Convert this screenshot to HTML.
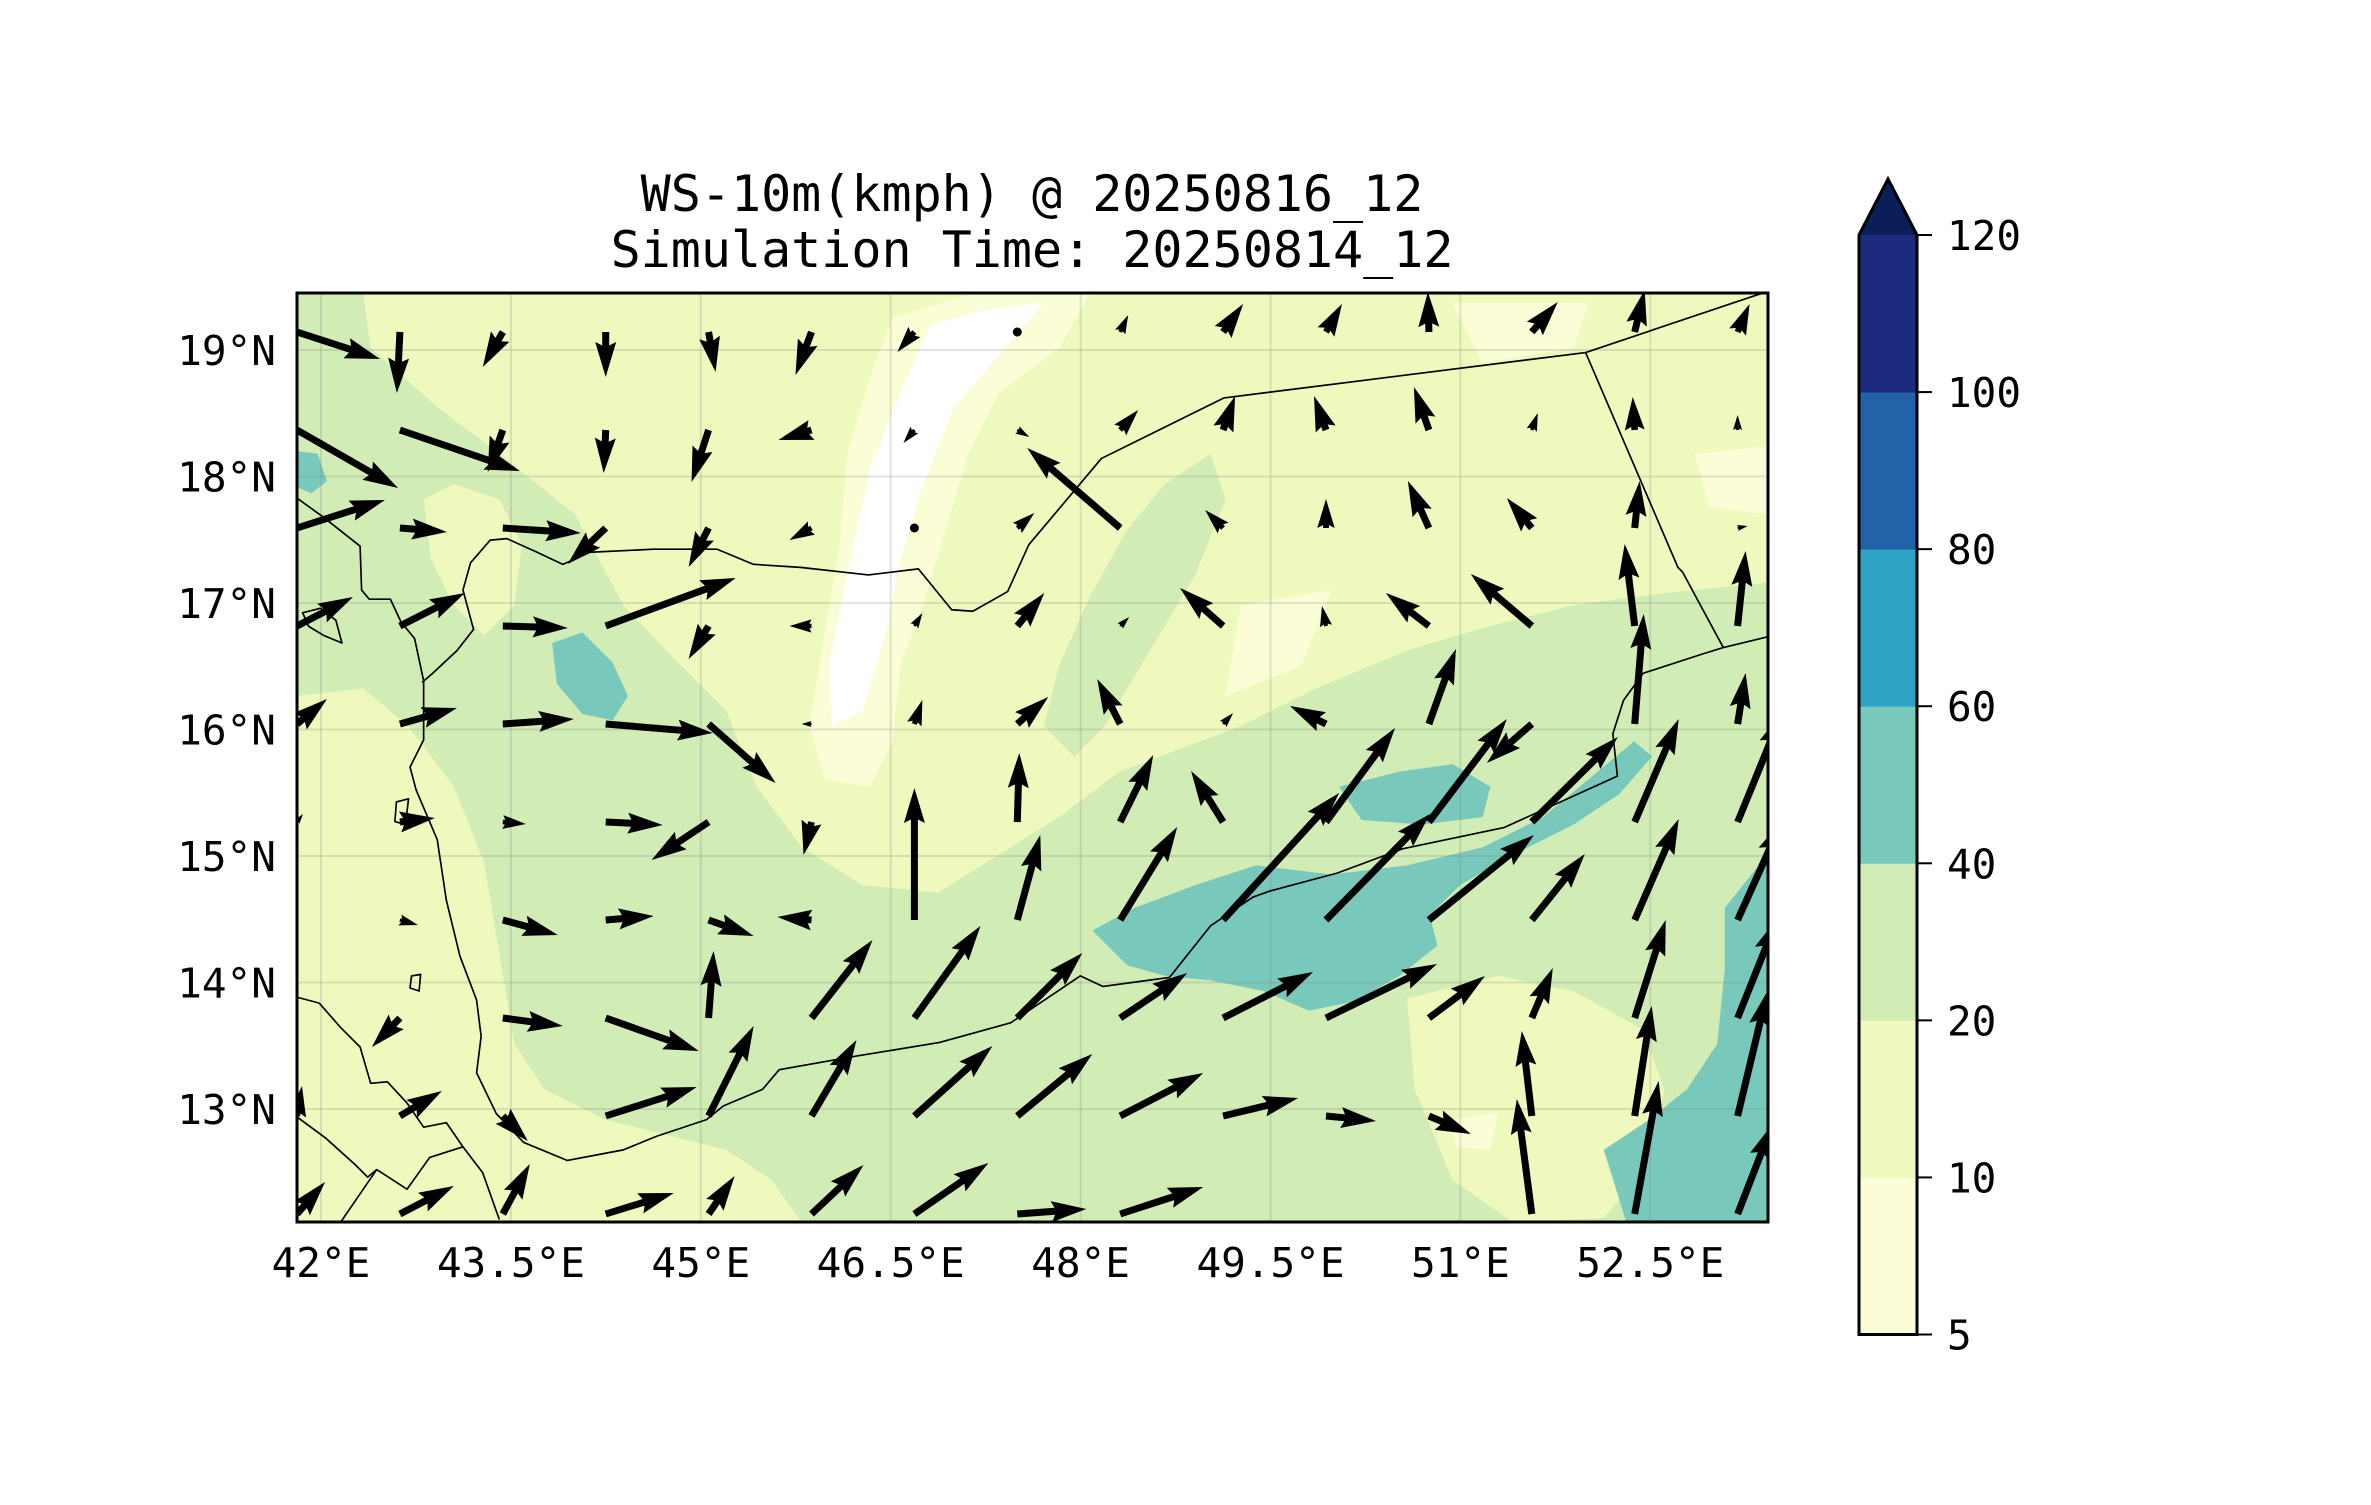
<!DOCTYPE html>
<html><head><meta charset="utf-8"><style>
html,body{margin:0;padding:0;background:#fff;}
svg text{font-family:"DejaVu Sans Mono","Liberation Mono",monospace;fill:#000;}
</style></head><body>
<svg id="fig" xmlns="http://www.w3.org/2000/svg" width="2371" height="1500" viewBox="0 0 2371 1500">
<rect width="2371" height="1500" fill="#fff"/>
<text x="1032" y="211" font-size="50" text-anchor="middle">WS-10m(kmph) @ 20250816_12</text>
<text x="1032" y="267" font-size="50" text-anchor="middle">Simulation Time: 20250814_12</text>
<defs><clipPath id="mapclip"><rect x="297" y="293" width="1471" height="929"/></clipPath></defs>
<g clip-path="url(#mapclip)">
<rect x="297" y="293" width="1471" height="929" fill="#eff9bd"/>
<g transform="scale(1.513)">
<path fill="#d1ecb4" d="M196,194 L240,194 L245,230 L290,270 L330,300 L380,340 L412,400 L450,440 L480,470 L500,520 L530,560 L570,585 L620,590 L660,565 L700,540 L740,510 L780,495 L820,480 L870,455 L930,430 L980,415 L1040,400 L1100,392 L1168,385 L1168,808 L196,808 Z"/>
<path fill="#d1ecb4" d="M690,480 L700,440 L720,395 L745,350 L770,320 L800,300 L810,330 L790,380 L760,430 L730,480 L710,500 Z"/>
<path fill="#eff9bd" d="M280,330 L300,320 L330,330 L345,360 L340,400 L320,420 L300,400 L285,370 Z"/>
<path fill="#eff9bd" d="M196,460 L240,455 L270,480 L300,520 L320,570 L330,630 L340,690 L360,720 L400,740 L440,750 L480,760 L510,780 L530,808 L196,808 Z"/>
<path fill="#eff9bd" d="M930,660 L990,645 L1040,655 L1085,680 L1100,720 L1090,770 L1060,805 L1000,808 L960,780 L935,720 Z"/>
<path fill="#fbfdd6" d="M590,210 L640,195 L720,195 L700,230 L660,260 L640,300 L625,350 L610,400 L595,440 L590,490 L575,520 L545,515 L535,480 L545,420 L555,360 L560,300 L575,250 Z"/>
<path fill="#ffffff" d="M615,215 L650,205 L690,200 L660,235 L630,270 L610,320 L595,370 L585,420 L570,470 L550,480 L548,440 L560,380 L575,310 L595,260 Z"/>
<path fill="#fbfdd6" d="M960,200 L1050,200 L1040,230 L980,240 Z M1120,300 L1168,295 L1168,340 L1130,335 Z M820,400 L880,390 L860,440 L810,460 Z M960,740 L990,735 L985,760 L962,758 Z"/>
<path fill="#78c9bb" d="M722,615 L750,600 L790,585 L830,572 L880,578 L930,572 L980,560 L1020,540 L1050,515 L1080,490 L1092,500 L1070,525 L1040,545 L1000,565 L965,585 L945,605 L950,625 L925,645 L895,662 L865,668 L835,655 L800,648 L770,645 L745,638 Z M885,520 L925,510 L960,505 L985,520 L980,540 L940,545 L900,542 Z M1060,760 L1090,740 L1115,720 L1135,690 L1140,640 L1140,600 L1168,565 L1168,808 L1075,808 Z M365,425 L385,418 L405,438 L415,460 L405,476 L385,472 L368,452 Z M196,298 L210,300 L216,318 L206,326 L196,322 Z"/>
</g>
<g id="gridlines" stroke="rgba(128,128,128,0.22)" stroke-width="2"></g>
<g transform="scale(1.513)" fill="none" stroke="#000" stroke-width="1.1" stroke-linejoin="round">
<polyline points="196,329 214,342 238,361 239,390 244,396 258,396 265,411 274,422 280,450 280,489 271,507 275,522 289,555 295,595 304,632 315,661 318,685 315,709 328,736 346,755 375,767 412,760 434,751 467,740 478,731 504,720 515,707 566,698 621,689 668,676 714,645 729,652 773,646 800,612 828,593 839,589 884,577 927,561 994,547 1038,527 1069,513 1066,485 1073,463 1086,445 1126,432 1139,428 1168,421"/>
<polyline points="279,451 286,445 302,430 313,416 306,390 311,372 324,357 335,356 355,365 372,373 390,365 432,363 474,363 498,373 529,375 574,380 607,376 629,403 643,404 666,391 680,360 728,303 809,263 1048,233 1161,195 1168,193"/>
<polyline points="1048,233 1109,375 1112,378 1139,428"/>
<polyline points="196,659 211,663 225,679 238,692 245,716 256,715 269,729 280,745 295,742 306,758 319,775 330,806"/>
<polyline points="196,738 215,752 235,770 243,778 249,773 269,786 284,765 306,758"/>
<polyline points="225,808 249,773"/>
<path d="M200,405 L212,402 L222,410 L226,425 L214,420 L204,414 Z M262,530 L270,528 L268,545 L261,543 Z M272,645 L278,644 L277,655 L271,653 Z"/>
</g>
<g id="quiver" fill="#000"></g>
</g>
<rect x="297" y="293" width="1471" height="929" fill="none" stroke="#000" stroke-width="3"/>
<g id="axes-labels" font-size="41"></g>
<g id="colorbar"></g>
</svg>
<script>
// Wind components (pixel units): u east, v north; null = no vector
const uRows = [
 [83,-3,-20,0,7,-16,-17,0.5,8,20,16,-1,26,10,12],
 [101,120,-15,-2,-17,-33,-11,12,18,12,-12,-15,6,-2,0],
 [88,47,78,-38,-20,-22,0.5,17,-93,-18,0,-21,-25,5,10],
 [56,65,65,130,-20,-22,8,27,9,-43,-4,-43,-61,-10,8],
 [30,57,71,107,67,-10,8,31,-23,10,-36,27,-45,9,8],
 [6,35,23,57,-57,-8,null,2,33,-32,69,78,86,44,45],
 [null,18,55,48,45,-34,0,23,57,116,104,105,53,44,45],
 [null,-28,60,93,5,61,66,65,67,90,111,56,21,31,40],
 [5,42,25,91,45,45,78,75,83,75,50,42,-10,17,30],
 [28,54,27,68,26,52,74,69,83,null,null,null,-15,24,35]
];
const vRows = [
 [-27,-61,-35,-45,-40,-43,-20,0,17,28,28,40,30,42,28],
 [-58,-41,-42,-43,-52,-10,-13,-7,20,34,34,43,17,33,15],
 [28,-4,-5,-36,-39,-12,0,15,80,18,29,47,30,47,2],
 [29,33,-2,48,-33,0,13,33,9,38,20,33,52,82,75],
 [25,16,5,-9,-59,0,24,27,45,11,18,75,-39,110,51],
 [8,4,-2,-3,-38,-33,null,69,67,51,94,103,85,103,110],
 [null,-5,-15,4,-16,3,132,85,93,127,106,85,66,101,100],
 [null,-29,-8,-33,67,78,92,65,45,46,54,42,50,98,100],
 [30,25,-25,29,90,76,70,62,43,18,-5,-18,85,110,125],
 [32,28,50,21,38,49,51,5,27,null,null,null,115,133,90]
];
const lonTicks = ["42°E","43.5°E","45°E","46.5°E","48°E","49.5°E","51°E","52.5°E"];
const lonVals = [42,43.5,45,46.5,48,49.5,51,52.5];
const latTicks = ["13°N","14°N","15°N","16°N","17°N","18°N","19°N"];
const latVals = [13,14,15,16,17,18,19];
const cbLevels = ["5","10","20","40","60","80","100","120"];
const cbColors = ["#fbfdd6","#eff9bd","#d1ecb4","#78c9bb","#2fa4c4","#2262a8","#1c2b7e"];

const NS="http://www.w3.org/2000/svg";
function lonX(lon){return 321+(lon-42)*126.6;}
function latY(lat){return 350+(19-lat)*126.5;}
function colX(i){return 297+102.9*i;}
function rowY(j){return 332+98.0*j;}
const SC=1.0;

const grid=document.getElementById('gridlines');
lonVals.forEach(function(l){
  const ln=document.createElementNS(NS,'line');
  
  
  ln.setAttribute('x1',lonX(l));ln.setAttribute('x2',lonX(l));ln.setAttribute('y1',293);ln.setAttribute('y2',1222);
  grid.appendChild(ln);
});
latVals.forEach(function(l){
  const ln=document.createElementNS(NS,'line');
  
  
  ln.setAttribute('y1',latY(l));ln.setAttribute('y2',latY(l));ln.setAttribute('x1',297);ln.setAttribute('x2',1768);
  grid.appendChild(ln);
});

const lab=document.getElementById('axes-labels');
lonTicks.forEach(function(t,i){
  const tx=document.createElementNS(NS,'text');
  
  
  tx.setAttribute('x',lonX(lonVals[i]));tx.setAttribute('y',1277);tx.setAttribute('text-anchor','middle');
  tx.textContent=t;lab.appendChild(tx);
});
latTicks.forEach(function(t,i){
  const tx=document.createElementNS(NS,'text');
  
  
  tx.setAttribute('x',276);tx.setAttribute('y',latY(latVals[i])+15);tx.setAttribute('text-anchor','end');
  tx.textContent=t;lab.appendChild(tx);
});

// quiver
const q=document.getElementById('quiver');
const W=7,HW=21,HL=35,HAL=31.5;
for(let j=0;j<uRows.length;j++){
  for(let i=0;i<uRows[j].length;i++){
    const u=uRows[j][i], v=vRows[j][i];
    if(u===null||v===null) continue;
    const x0=colX(i), y0=rowY(j);
    const dx=u*SC, dy=-v*SC;
    const L=Math.hypot(dx,dy);
    if(L<3){
      const c=document.createElementNS(NS,'circle');
      
      
      c.setAttribute('cx',x0);c.setAttribute('cy',y0);c.setAttribute('r',4.5);
      q.appendChild(c);continue;
    }
    let pts;
    if(L>=HL){
      pts=[[0,-W/2],[L-HAL,-W/2],[L-HL,-HW/2],[L,0],[L-HL,HW/2],[L-HAL,W/2],[0,W/2]];
    }else{
      const k=L/HL;
      pts=[[0,-W/2],[HL-HAL,-W/2],[0,-HW/2],[HL,0],[0,HW/2],[HL-HAL,W/2],[0,W/2]].map(function(p){return [p[0]*k,p[1]*k];});
    }
    const ca=dx/L, sa=dy/L;
    const s=pts.map(function(p){return (x0+p[0]*ca-p[1]*sa).toFixed(1)+','+(y0+p[0]*sa+p[1]*ca).toFixed(1);}).join(' ');
    const pg=document.createElementNS(NS,'polygon');
    
    
    pg.setAttribute('points',s);
    q.appendChild(pg);
  }
}

// colorbar
const cb=document.getElementById('colorbar');
const cbX=1859,cbW=58,cbTop=235,cbBot=1334.5;
const seg=(cbBot-cbTop)/cbColors.length;
function cbY(k){return cbBot-k*seg;}
cbColors.forEach(function(c,k){
  const r=document.createElementNS(NS,'rect');
  
  
  r.setAttribute('x',cbX);r.setAttribute('y',cbY(k+1));r.setAttribute('width',cbW);r.setAttribute('height',seg+0.5);r.setAttribute('fill',c);
  cb.appendChild(r);
});
const tri=document.createElementNS(NS,'polygon');


tri.setAttribute('points',cbX+','+cbTop+' '+(cbX+cbW/2)+',179 '+(cbX+cbW)+','+cbTop);
tri.setAttribute('fill','#0a1f5a');
cb.appendChild(tri);
const outline=document.createElementNS(NS,'polygon');


outline.setAttribute('points',cbX+','+cbBot+' '+cbX+','+cbTop+' '+(cbX+cbW/2)+',179 '+(cbX+cbW)+','+cbTop+' '+(cbX+cbW)+','+cbBot);
outline.setAttribute('fill','none');outline.setAttribute('stroke','#000');outline.setAttribute('stroke-width','3');
cb.appendChild(outline);
cbLevels.forEach(function(t,k){
  const y=cbY(k);
  const tk=document.createElementNS(NS,'line');
  
  
  tk.setAttribute('x1',cbX+cbW);tk.setAttribute('x2',cbX+cbW+15);tk.setAttribute('y1',y);tk.setAttribute('y2',y);
  tk.setAttribute('stroke','#000');tk.setAttribute('stroke-width','2');
  cb.appendChild(tk);
  const tx=document.createElementNS(NS,'text');
  
  
  tx.setAttribute('x',1947);tx.setAttribute('y',y+15);tx.setAttribute('font-size','41');
  tx.textContent=t;cb.appendChild(tx);
});
</script>
</body></html>
